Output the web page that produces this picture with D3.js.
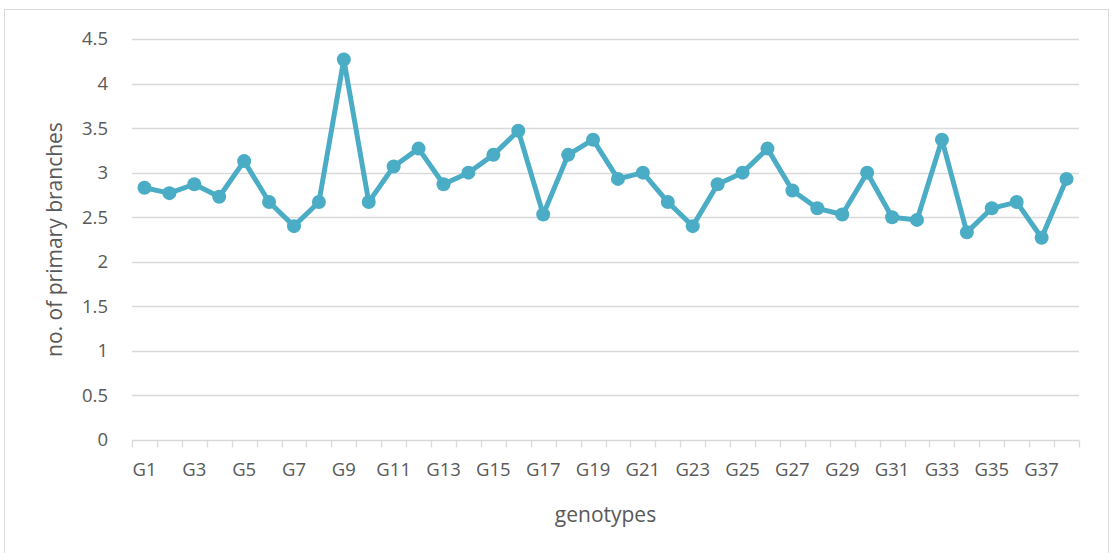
<!DOCTYPE html>
<html>
<head>
<meta charset="utf-8">
<script src="https://cdn.jsdelivr.net/npm/d3@7"></script>
<style>
  body { margin: 0; background: #fff; }
  text { font-family: "Open Sans", sans-serif; fill: #595959; }
</style>
</head>
<body>
<div id="chart"></div>
<script>
// genotypes G1..G38
var genotypes = ["G1","G2","G3","G4","G5","G6","G7","G8","G9","G10",
  "G11","G12","G13","G14","G15","G16","G17","G18","G19","G20",
  "G21","G22","G23","G24","G25","G26","G27","G28","G29","G30",
  "G31","G32","G33","G34","G35","G36","G37","G38"];

var branches = [2.83, 2.77, 2.87, 2.73, 3.13, 2.67, 2.4, 2.67, 4.27, 2.67,
  3.07, 3.27, 2.87, 3.0, 3.2, 3.47, 2.53, 3.2, 3.37, 2.93,
  3.0, 2.67, 2.4, 2.87, 3.0, 3.27, 2.8, 2.6, 2.53, 3.0,
  2.5, 2.47, 3.37, 2.33, 2.6, 2.67, 2.27, 2.93];

var yTicks = [0, 0.5, 1, 1.5, 2, 2.5, 3, 3.5, 4, 4.5];

var W = 1112, H = 553;
var margin = { top: 39, right: 33, bottom: 113, left: 132 },
  width = W - margin.left - margin.right,
  height = H - margin.top - margin.bottom;

var svg = d3.select("#chart").append("svg")
  .attr("width", W)
  .attr("height", H);

// chart border
svg.append("rect")
  .attr("x", 4.5).attr("y", 9.5)
  .attr("width", 1104).attr("height", 560)
  .attr("fill", "none")
  .attr("stroke", "#d9d9d9")
  .attr("stroke-width", 1);

var g = svg.append("g")
  .attr("transform", "translate(" + margin.left + "," + margin.top + ")");

var x = d3.scaleBand().domain(genotypes).range([0, width]);
var y = d3.scaleLinear().domain([0, 4.5]).range([height, 0]);

// gridlines
g.selectAll("line.grid")
  .data(yTicks.slice(1))
  .enter().append("line")
  .attr("class", "grid")
  .attr("x1", 0).attr("x2", width)
  .attr("y1", function(d) { return Math.round(y(d)) + 0.5; })
  .attr("y2", function(d) { return Math.round(y(d)) + 0.5; })
  .attr("stroke", "#d9d9d9")
  .attr("stroke-width", 1.3);

// y tick labels
g.selectAll("text.ytick")
  .data(yTicks)
  .enter().append("text")
  .attr("class", "ytick")
  .attr("x", -24)
  .attr("y", function(d) { return y(d); })
  .attr("dy", "0.35em")
  .attr("text-anchor", "end")
  .attr("font-size", 18.5)
  .text(function(d) { return d; });

// x axis line + ticks between categories
var xAxis = g.append("g")
  .attr("transform", "translate(0," + (Math.round(height) + 0.5) + ")");
xAxis.append("line")
  .attr("x1", 0).attr("x2", width)
  .attr("stroke", "#d9d9d9").attr("stroke-width", 1.3);
var bounds = genotypes.map(function(d) { return x(d); }).concat([width]);
xAxis.selectAll("line.tick")
  .data(bounds)
  .enter().append("line")
  .attr("class", "tick")
  .attr("x1", function(d) { return Math.round(d) + 0.5; })
  .attr("x2", function(d) { return Math.round(d) + 0.5; })
  .attr("y1", 0).attr("y2", 7)
  .attr("stroke", "#d9d9d9").attr("stroke-width", 1.3);

xAxis.selectAll("text.xtick")
  .data(genotypes.filter(function(d, i) { return i % 2 === 0; }))
  .enter().append("text")
  .attr("class", "xtick")
  .attr("x", function(d) { return x(d) + x.bandwidth() / 2; })
  .attr("y", 35)
  .attr("text-anchor", "middle")
  .attr("font-size", 18.5)
  .text(function(d) { return d; });

// line
var line = d3.line()
  .x(function(d, i) { return x(genotypes[i]) + x.bandwidth() / 2; })
  .y(function(d) { return y(d); });

g.append("path")
  .datum(branches)
  .attr("d", line)
  .attr("fill", "none")
  .attr("stroke", "#4BACC6")
  .attr("stroke-width", 5)
  .attr("stroke-linejoin", "round");

g.selectAll("circle.pt")
  .data(branches)
  .enter().append("circle")
  .attr("class", "pt")
  .attr("cx", function(d, i) { return x(genotypes[i]) + x.bandwidth() / 2; })
  .attr("cy", function(d) { return y(d); })
  .attr("r", 7)
  .attr("fill", "#4BACC6");

// axis titles
svg.append("text")
  .attr("transform", "translate(62," + (margin.top + height / 2) + ") rotate(-90)")
  .attr("text-anchor", "middle")
  .attr("font-size", 21)
  .text("no. of primary branches");

svg.append("text")
  .attr("x", margin.left + width / 2)
  .attr("y", 522)
  .attr("text-anchor", "middle")
  .attr("font-size", 21)
  .text("genotypes");
</script>
</body>
</html>
